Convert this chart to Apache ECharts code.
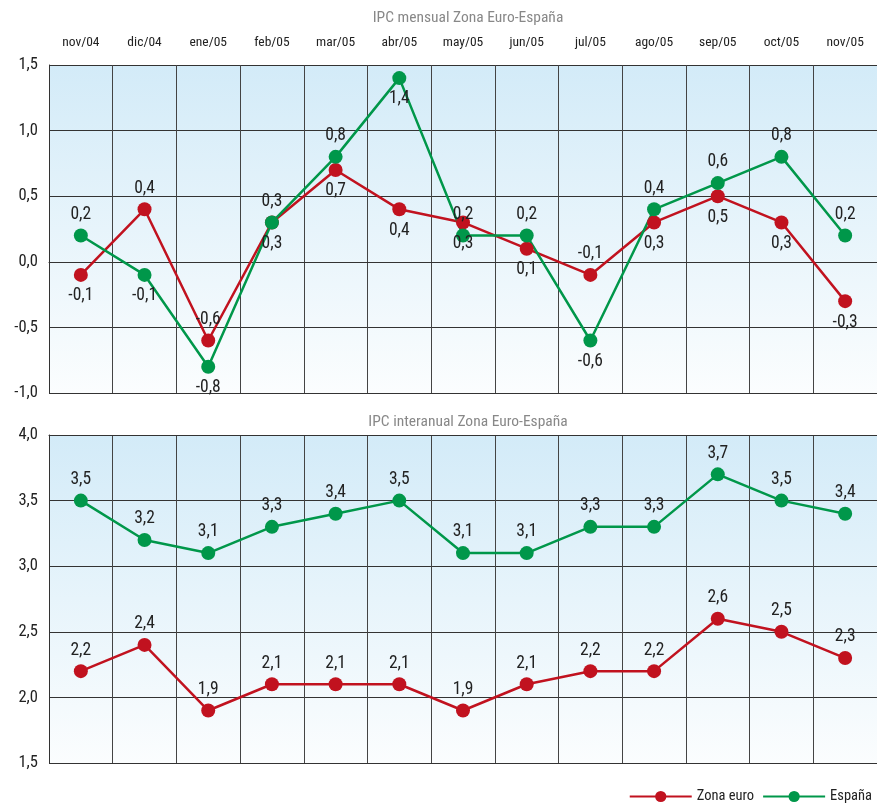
<!DOCTYPE html>
<html>
<head>
<meta charset="utf-8">
<style>
  html, body { margin: 0; padding: 0; background: #fff; }
  #chart { width: 877px; height: 806px; }
</style>
<script src="https://cdn.jsdelivr.net/npm/echarts@6/dist/echarts.min.js"></script>
</head>
<body>
<div id="chart"></div>
<script>
const months = ['nov/04', 'dic/04', 'ene/05', 'feb/05', 'mar/05', 'abr/05', 'may/05',
  'jun/05', 'jul/05', 'ago/05', 'sep/05', 'oct/05', 'nov/05'];

// IPC mensual
const euroMensual = [-0.1, 0.4, -0.6, 0.3, 0.7, 0.4, 0.3, 0.1, -0.1, 0.3, 0.5, 0.3, -0.3];
const espMensual = [0.2, -0.1, -0.8, 0.3, 0.8, 1.4, 0.2, 0.2, -0.6, 0.4, 0.6, 0.8, 0.2];
// IPC interanual
const euroAnual = [2.2, 2.4, 1.9, 2.1, 2.1, 2.1, 1.9, 2.1, 2.2, 2.2, 2.6, 2.5, 2.3];
const espAnual = [3.5, 3.2, 3.1, 3.3, 3.4, 3.5, 3.1, 3.1, 3.3, 3.3, 3.7, 3.5, 3.4];

// where each value label sits (top chart)
const euroMensualPos = ['bottom', 'top', 'top', 'top', 'bottom', 'bottom', 'bottom',
  'bottom', 'top', 'bottom', 'bottom', 'bottom', 'bottom'];
const espMensualPos = ['top', 'bottom', 'bottom', 'bottom', 'top', 'bottom', 'top',
  'top', 'bottom', 'top', 'top', 'top', 'top'];

const RED = '#c1121f';
const GREEN = '#00974a';
const FONT = '"Roboto Condensed", "Open Sans", sans-serif';

const fmt = (v) => v.toFixed(1).replace('.', ',');

const bg = new echarts.graphic.LinearGradient(0, 0, 0, 1, [
  { offset: 0, color: '#d3ebf8' },
  { offset: 1, color: '#fbfdfe' },
]);

function withLabels(values, positions) {
  return values.map((v, i) => ({
    value: v,
    label: { position: positions ? positions[i] : 'top' },
  }));
}

function lineSeries(name, color, data, axisIdx) {
  return {
    name,
    type: 'line',
    xAxisIndex: axisIdx,
    yAxisIndex: axisIdx,
    data,
    symbol: 'circle',
    symbolSize: 14,
    lineStyle: { color, width: 2.5 },
    itemStyle: { color },
    label: {
      show: true,
      distance: 5,
      fontFamily: FONT,
      fontSize: 17.5,
      color: '#222',
      formatter: (p) => fmt(p.value),
    },
    z: 3,
  };
}

const catAxis = (gridIndex, showLabels) => ({
  type: 'category',
  gridIndex,
  position: 'top',
  data: months,
  boundaryGap: true,
  axisLine: { show: true, lineStyle: { color: '#333', width: 1 } },
  axisTick: { show: false },
  axisLabel: {
    show: showLabels, fontFamily: FONT, fontSize: 13.5, color: '#222', margin: 15,
  },
  splitLine: { show: true, lineStyle: { color: '#444', width: 1 } },
});

const valAxis = (gridIndex, min, max) => ({
  type: 'value',
  gridIndex,
  min,
  max,
  interval: 0.5,
  axisLine: { show: true, lineStyle: { color: '#333', width: 1 } },
  axisTick: { show: false },
  axisLabel: {
    fontFamily: FONT, fontSize: 16.5, color: '#222', margin: 11,
    formatter: (v) => fmt(v),
  },
  splitLine: { show: true, lineStyle: { color: '#333', width: 1 } },
});

const chart = echarts.init(document.getElementById('chart'));
chart.setOption({
  animation: false,
  title: [
    {
      text: 'IPC mensual Zona Euro-España',
      left: 463, top: 5, textAlign: 'center',
      textStyle: { fontFamily: FONT, fontSize: 15.5, fontWeight: 'normal', color: '#888' },
    },
    {
      text: 'IPC interanual Zona Euro-España',
      left: 463, top: 409, textAlign: 'center',
      textStyle: { fontFamily: FONT, fontSize: 15.5, fontWeight: 'normal', color: '#888' },
    },
  ],
  legend: {
    right: 0,
    bottom: -3,
    itemWidth: 62,
    itemHeight: 14,
    itemGap: 8,
    textStyle: { fontFamily: FONT, fontSize: 14.5, color: '#222' },
    data: ['Zona euro', 'España'],
  },
  grid: [
    { left: 49, right: 0, top: 65, height: 328, show: true, backgroundColor: bg, borderWidth: 0 },
    { left: 49, right: 0, top: 435, height: 328, show: true, backgroundColor: bg, borderWidth: 0 },
  ],
  xAxis: [catAxis(0, true), catAxis(1, false)],
  yAxis: [valAxis(0, -1, 1.5), valAxis(1, 1.5, 4)],
  series: [
    lineSeries('Zona euro', RED, withLabels(euroMensual, euroMensualPos), 0),
    lineSeries('España', GREEN, withLabels(espMensual, espMensualPos), 0),
    lineSeries('Zona euro', RED, withLabels(euroAnual), 1),
    lineSeries('España', GREEN, withLabels(espAnual), 1),
  ],
});
</script>
</body>
</html>
